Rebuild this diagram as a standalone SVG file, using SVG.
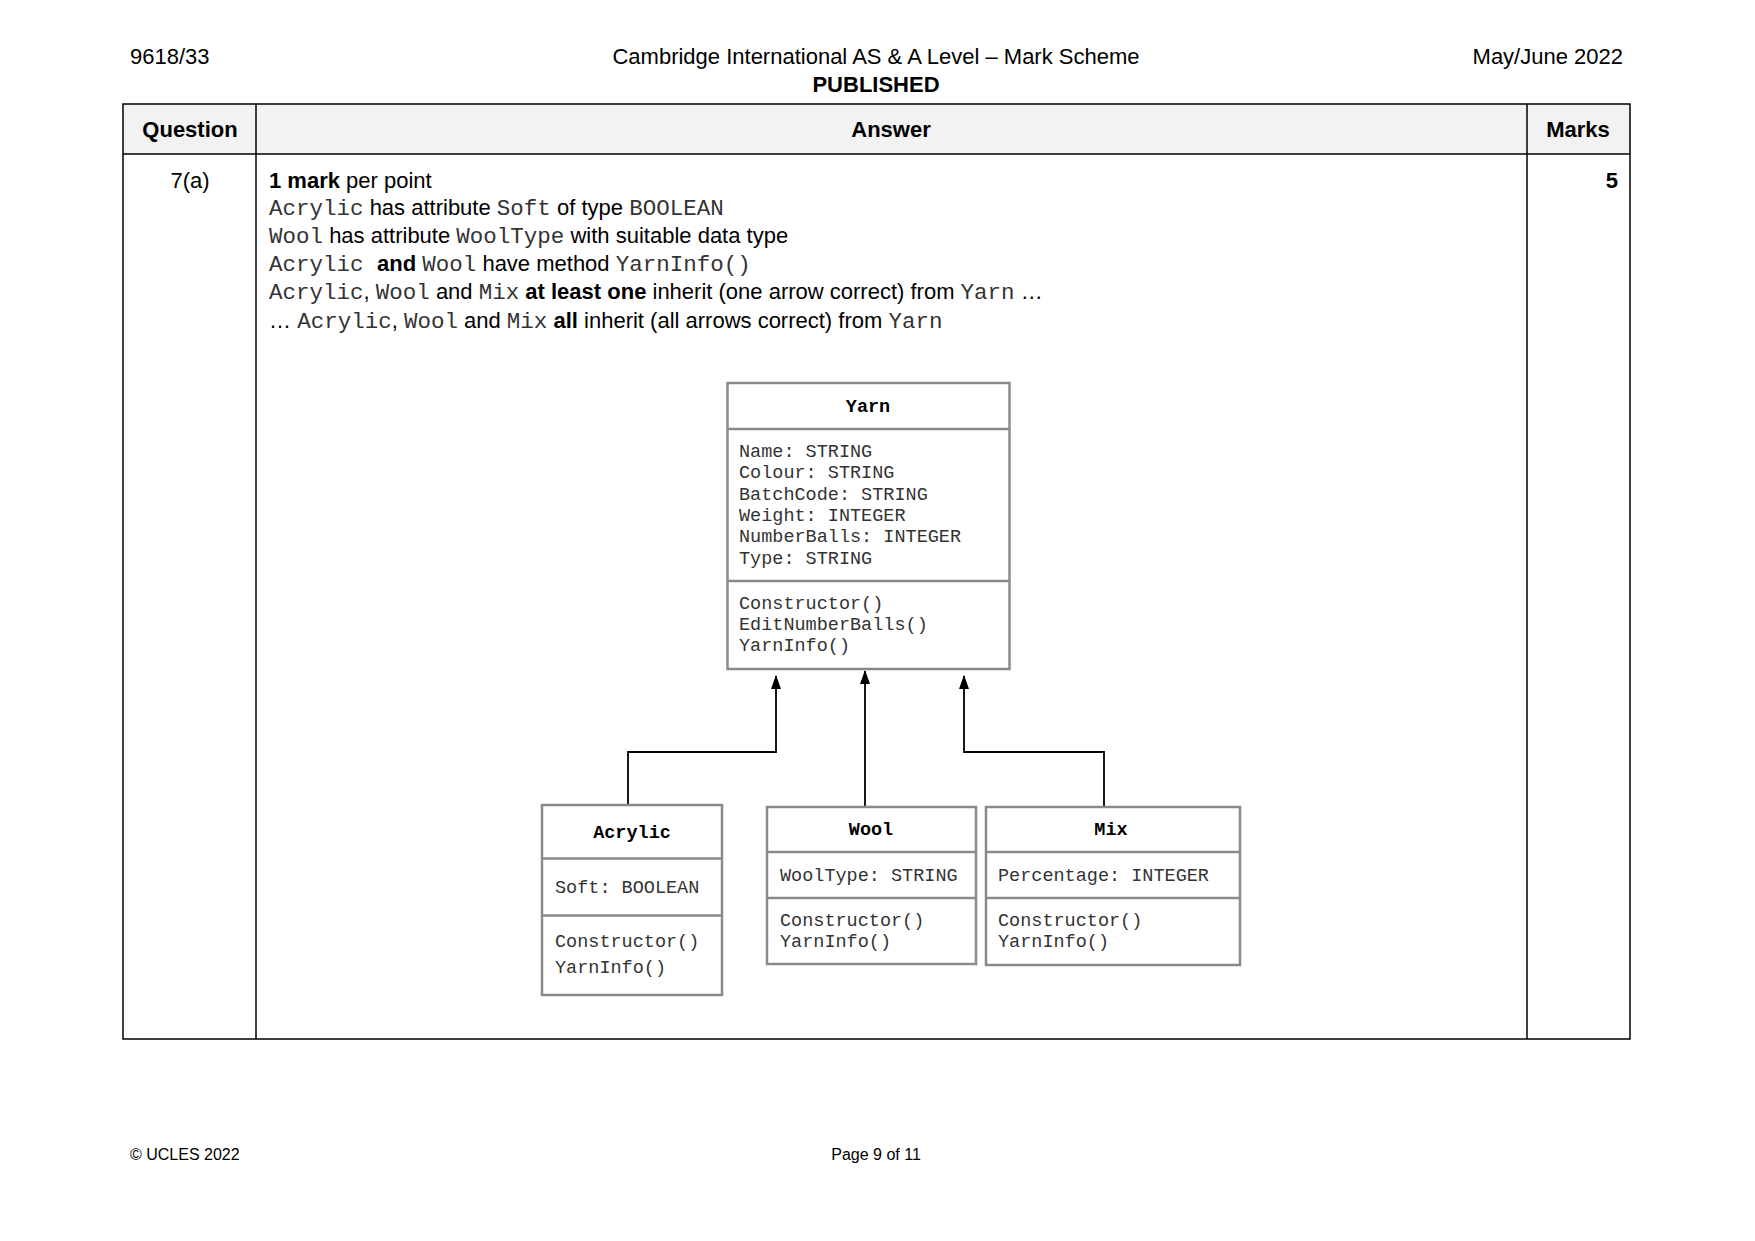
<svg xmlns="http://www.w3.org/2000/svg" width="1755" height="1241" viewBox="0 0 1755 1241">
<style>
.s{font-family:"Liberation Sans",Arial,sans-serif;font-size:22px;fill:#000}
.b{font-weight:bold}
.m{font-family:"Liberation Mono","Courier New",monospace;font-size:22.5px;fill:#333}
.u{font-family:"Liberation Mono","Courier New",monospace;font-size:18.5px;fill:#333}
.t{font-family:"Liberation Mono","Courier New",monospace;font-size:18.5px;font-weight:bold;fill:#000;text-anchor:middle}
.box{fill:#fff;stroke:#8a8a8a;stroke-width:2.5}
.dv{stroke:#8a8a8a;stroke-width:2.5}
.g{fill:none;stroke:#000;stroke-width:1.8}
.c{text-anchor:middle}
</style>
<defs>
<marker id="ah" viewBox="0 0 14 10" refX="13" refY="5" markerWidth="14" markerHeight="10" markerUnits="userSpaceOnUse" orient="auto">
<path d="M0,0 L14,5 L0,10 Z" fill="#000"/>
</marker>
</defs>
<rect width="1755" height="1241" fill="#fff"/>
<g id="header">
<text class="s" x="130" y="64">9618/33</text>
<text class="s c" x="876" y="64">Cambridge International AS &amp; A Level – Mark Scheme</text>
<text class="s b c" x="876" y="92">PUBLISHED</text>
<text class="s" x="1623" y="64" text-anchor="end">May/June 2022</text>
</g>
<g id="table">
<rect x="123" y="104" width="1507" height="50" fill="#f2f2f2"/>
<rect x="123" y="104" width="1507" height="935" fill="none" stroke="#000" stroke-width="1.5"/>
<line x1="123" y1="154" x2="1630" y2="154" stroke="#000" stroke-width="1.5"/>
<line x1="256" y1="104" x2="256" y2="1039" stroke="#000" stroke-width="1.5"/>
<line x1="1527" y1="104" x2="1527" y2="1039" stroke="#000" stroke-width="1.5"/>
<text class="s b c" x="190" y="137">Question</text>
<text class="s b c" x="891" y="137">Answer</text>
<text class="s b c" x="1578" y="137">Marks</text>
<text class="s c" x="190" y="188">7(a)</text>
<text class="s b" x="1618" y="188" text-anchor="end">5</text>
</g>
<g id="answer">
<text class="s" x="269" y="188"><tspan class="b">1 mark</tspan> per point</text>
<text x="269" y="215"><tspan class="m">Acrylic</tspan><tspan class="s"> has attribute </tspan><tspan class="m">Soft</tspan><tspan class="s"> of type </tspan><tspan class="m">BOOLEAN</tspan></text>
<text x="269" y="243"><tspan class="m">Wool</tspan><tspan class="s"> has attribute </tspan><tspan class="m">WoolType</tspan><tspan class="s"> with suitable data type</tspan></text>
<text x="269" y="271"><tspan class="m">Acrylic </tspan><tspan class="s b"> and </tspan><tspan class="m">Wool</tspan><tspan class="s"> have method </tspan><tspan class="m">YarnInfo()</tspan></text>
<text x="269" y="299"><tspan class="m">Acrylic</tspan><tspan class="s">, </tspan><tspan class="m">Wool</tspan><tspan class="s"> and  </tspan><tspan class="m">Mix</tspan><tspan class="s b"> at least one</tspan><tspan class="s"> inherit (one arrow correct) from </tspan><tspan class="m">Yarn</tspan><tspan class="s">  …</tspan></text>
<text x="269" y="328"><tspan class="s">… </tspan><tspan class="m">Acrylic</tspan><tspan class="s">, </tspan><tspan class="m">Wool</tspan><tspan class="s"> and  </tspan><tspan class="m">Mix</tspan><tspan class="s b"> all</tspan><tspan class="s"> inherit (all arrows correct) from </tspan><tspan class="m">Yarn</tspan></text>
</g>
<g id="connectors">
<polyline class="g" points="628,805 628,752 776,752 776,676" marker-end="url(#ah)"/>
<polyline class="g" points="865,806 865,671" marker-end="url(#ah)"/>
<polyline class="g" points="1104,806 1104,752 964,752 964,676" marker-end="url(#ah)"/>
</g>
<g id="yarn">
<rect class="box" x="727.5" y="383" width="282" height="286"/>
<line class="dv" x1="727.5" y1="429" x2="1009.5" y2="429"/>
<line class="dv" x1="727.5" y1="581" x2="1009.5" y2="581"/>
<text class="t" x="868" y="412">Yarn</text>
<text class="u" x="739" y="457">Name: STRING</text>
<text class="u" x="739" y="478">Colour: STRING</text>
<text class="u" x="739" y="500">BatchCode: STRING</text>
<text class="u" x="739" y="521">Weight: INTEGER</text>
<text class="u" x="739" y="542">NumberBalls: INTEGER</text>
<text class="u" x="739" y="564">Type: STRING</text>
<text class="u" x="739" y="609">Constructor()</text>
<text class="u" x="739" y="630">EditNumberBalls()</text>
<text class="u" x="739" y="651">YarnInfo()</text>
</g>
<g id="acrylic">
<rect class="box" x="542" y="805" width="180" height="190"/>
<line class="dv" x1="542" y1="858.5" x2="722" y2="858.5"/>
<line class="dv" x1="542" y1="915.5" x2="722" y2="915.5"/>
<text class="t" x="632" y="838">Acrylic</text>
<text class="u" x="555" y="893">Soft: BOOLEAN</text>
<text class="u" x="555" y="947">Constructor()</text>
<text class="u" x="555" y="973">YarnInfo()</text>
</g>
<g id="wool">
<rect class="box" x="767" y="807" width="209" height="157"/>
<line class="dv" x1="767" y1="852" x2="976" y2="852"/>
<line class="dv" x1="767" y1="898" x2="976" y2="898"/>
<text class="t" x="871" y="835">Wool</text>
<text class="u" x="780" y="881">WoolType: STRING</text>
<text class="u" x="780" y="926">Constructor()</text>
<text class="u" x="780" y="947">YarnInfo()</text>
</g>
<g id="mix">
<rect class="box" x="986" y="807" width="254" height="158"/>
<line class="dv" x1="986" y1="852" x2="1240" y2="852"/>
<line class="dv" x1="986" y1="898" x2="1240" y2="898"/>
<text class="t" x="1111" y="835">Mix</text>
<text class="u" x="998" y="881">Percentage: INTEGER</text>
<text class="u" x="998" y="926">Constructor()</text>
<text class="u" x="998" y="947">YarnInfo()</text>
</g>
<g id="footer">
<text class="s" x="130" y="1160" style="font-size:16px">© UCLES 2022</text>
<text class="s c" x="876" y="1160" style="font-size:16px">Page 9 of 11</text>
</g>
</svg>
